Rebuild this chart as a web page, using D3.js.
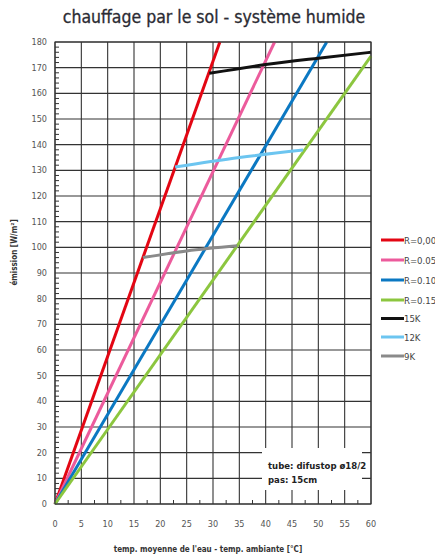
<!DOCTYPE html>
<html>
<head>
<meta charset="utf-8">
<script src="https://cdn.jsdelivr.net/npm/d3@7"></script>
<style>
  html, body { margin: 0; padding: 0; background: #fff; }
  svg { display: block; }
  text { font-family: "DejaVu Sans Condensed", "Liberation Sans Narrow", "DejaVu Sans", sans-serif; }
</style>
</head>
<body>
<svg id="chart" width="435" height="560"></svg>
<script>
// ---- data ----
const xTicks = [0, 5, 10, 15, 20, 25, 30, 35, 40, 45, 50, 55, 60];
const yTicks = [0, 10, 20, 30, 40, 50, 60, 70, 80, 90, 100, 110, 120, 130, 140, 150, 160, 170, 180];
const seriesNames = ["R=0,00", "R=0.05", "R=0.10", "R=0.15", "15K", "12K", "9K"];
const seriesColors = ["#e30613", "#ec5b9c", "#0b78c2", "#8cc63f", "#111111", "#6cc5f0", "#8a8a8a"];
// resistance lines: [deltaT, emission]
const r000 = [[0, 0], [31.3, 180]];
const r005 = [[0, 0], [41.7, 180]];
const r010 = [[0, 0], [51.6, 180]];
const r015 = [[0, 0], [60, 174.5]];
// spread lines
const k15 = [[29.3, 167.8], [40, 171.2], [50, 173.7], [60, 176]];
const k12 = [[22.8, 131.3], [35, 135], [47.1, 137.9]];
const k9 = [[16.7, 96], [25, 98.6], [34.6, 100.6]];
const seriesData = [r000, r005, r010, r015, k15, k12, k9];
const title = "chauffage par le sol - système humide";
const xLabel = "temp. moyenne de l'eau - temp. ambiante [°C]";
const yLabel = "émission [W/m²]";
const noteLines = ["tube: difustop ø18/2", "pas: 15cm"];

// ---- layout ----
const svg = d3.select("#chart");
const L = 55, R = 371, T = 42, B = 504;
const x = d3.scaleLinear().domain([0, 60]).range([L, R]);
const y = d3.scaleLinear().domain([0, 180]).range([B, T]);
const gridColor = "#333333";

svg.append("text")
  .attr("x", 214).attr("y", 23)
  .attr("text-anchor", "middle")
  .attr("font-size", 17.5)
  .attr("fill", "#2b2b33")
  .attr("stroke", "#2b2b33").attr("stroke-width", 0.3)
  .text(title);

// grid
const grid = svg.append("g");
grid.selectAll(".vx").data(xTicks).join("line")
  .attr("x1", d => x(d)).attr("x2", d => x(d))
  .attr("y1", T).attr("y2", B)
  .attr("stroke", gridColor).attr("stroke-width", 1.1);
grid.selectAll(".hy").data(yTicks).join("line")
  .attr("x1", L).attr("x2", R)
  .attr("y1", d => y(d)).attr("y2", d => y(d))
  .attr("stroke", gridColor).attr("stroke-width", 1.1);

// minor ticks
const yMinor = d3.range(0, 181, 2).filter(v => v % 10 !== 0);
grid.selectAll(".my").data(yMinor).join("line")
  .attr("x1", L).attr("x2", L + 4)
  .attr("y1", d => y(d)).attr("y2", d => y(d))
  .attr("stroke", gridColor).attr("stroke-width", 1);
const xMinor = d3.range(2.5, 60, 5);
grid.selectAll(".mx").data(xMinor).join("line")
  .attr("x1", d => x(d)).attr("x2", d => x(d))
  .attr("y1", B).attr("y2", B - 4)
  .attr("stroke", gridColor).attr("stroke-width", 1);

// note box (white background hiding grid)
svg.append("rect")
  .attr("x", 262).attr("y", 448).attr("width", 100).attr("height", 42)
  .attr("fill", "#fff");
svg.append("text")
  .attr("x", 268).attr("y", 469)
  .attr("font-size", 9.5).attr("font-weight", "bold").attr("fill", "#222")
  .selectAll("tspan").data(noteLines).join("tspan")
  .attr("x", 268).attr("dy", (d, i) => i === 0 ? 0 : 14)
  .text(d => d);

// axes labels
svg.append("g").selectAll("text").data(yTicks).join("text")
  .attr("x", 47).attr("y", d => y(d) + 3)
  .attr("text-anchor", "end").attr("font-size", 9).attr("fill", "#555")
  .text(d => d);
svg.append("g").selectAll("text").data(xTicks).join("text")
  .attr("x", d => x(d)).attr("y", 527)
  .attr("text-anchor", "middle").attr("font-size", 9).attr("fill", "#555")
  .text(d => d);

svg.append("text")
  .attr("x", 208).attr("y", 552)
  .attr("text-anchor", "middle").attr("font-size", 8).attr("font-weight", "bold").attr("fill", "#333")
  .text(xLabel);
svg.append("text")
  .attr("transform", `translate(17,${y(98)}) rotate(-90)`)
  .attr("text-anchor", "middle").attr("font-size", 8).attr("font-weight", "bold").attr("fill", "#333")
  .text(yLabel);

// lines
const line = d3.line().x(d => x(d[0])).y(d => y(d[1])).curve(d3.curveMonotoneX);
const plot = svg.append("g");
seriesData.forEach((s, i) => {
  plot.append("path")
    .datum(s)
    .attr("d", line)
    .attr("fill", "none")
    .attr("stroke", seriesColors[i])
    .attr("stroke-width", 3)
    .attr("stroke-linecap", "butt");
});

// frame
svg.append("rect")
  .attr("x", L).attr("y", T).attr("width", R - L).attr("height", B - T)
  .attr("fill", "none").attr("stroke", gridColor).attr("stroke-width", 1.1);

// legend
const legendY = [240, 260, 280, 300, 318.5, 337, 356];
const lg = svg.append("g");
seriesNames.forEach((n, i) => {
  lg.append("line")
    .attr("x1", 381).attr("x2", 404)
    .attr("y1", legendY[i]).attr("y2", legendY[i])
    .attr("stroke", seriesColors[i]).attr("stroke-width", 3);
  lg.append("text")
    .attr("x", 404).attr("y", legendY[i] + 3.5)
    .attr("font-size", 9.5).attr("fill", "#444")
    .text(n);
});
</script>
</body>
</html>
